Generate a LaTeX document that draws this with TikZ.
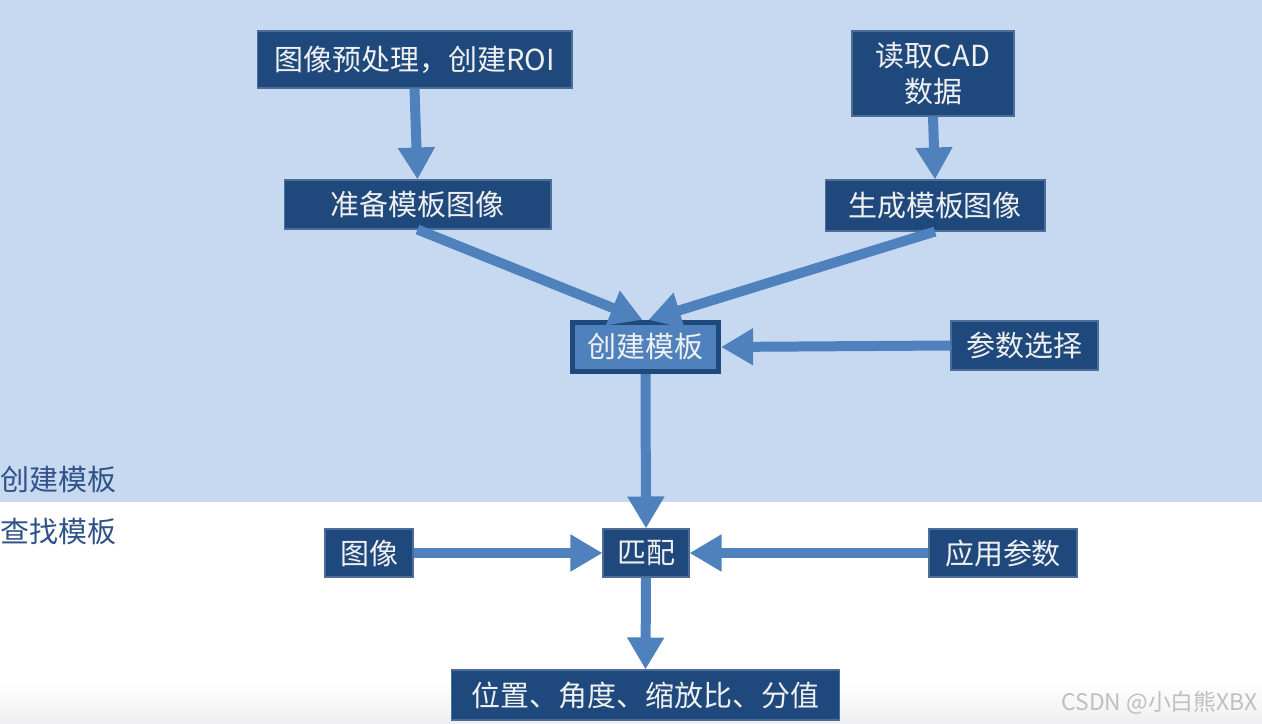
\documentclass[tikz,border=0pt]{standalone}
\usepackage{fontspec}
\usepackage{xcolor}
\usepackage{tikz}
\usetikzlibrary{arrows.meta,positioning}
\newfontfamily\cjk{Noto Sans CJK SC}
\definecolor{bgblue}{HTML}{C6D9F1}
\definecolor{boxnavy}{HTML}{1F497D}
\definecolor{flowblue}{HTML}{4F81BD}
\definecolor{stagetxt}{HTML}{2F5288}
\tikzset{
  stepbox/.style={draw=boxnavy!80!white,fill=boxnavy,line width=0.6pt,inner sep=0pt,
                  text=white!94!black,font=\cjk\fontsize{16.5}{21}\selectfont,align=center},
  keybox/.style={stepbox,fill=flowblue,draw=boxnavy,line width=3pt},
  stage/.style={anchor=west,inner sep=0pt,text=stagetxt,font=\cjk\fontsize{16.5}{19}\selectfont},
  flow/.style={-{Triangle[length=0.64cm,width=0.7cm]},flowblue,line width=0.2cm},
}

\begin{document}
\begin{tikzpicture}[x=0.02cm,y=-0.02cm]
        \useasboundingbox (0,0) rectangle (1262,724);
        \fill[bgblue] (0,0) rectangle (1262,502);
        \shade[top color=white,bottom color=blue!6!gray!12] (0,682) rectangle (1262,724);
        % stage labels
        \node[stage] (lcreate) at (0,480) {创建模板};
        \node[stage] (lfind)   at (0,532) {查找模板};
        % create template
        \node[stepbox,minimum width=6.3cm,minimum height=1.14cm]  (roi)    at (414.5,59.5) {图像预处理，创建ROI};
        \node[stepbox,minimum width=3.24cm,minimum height=1.7cm]  (cad)    at (933,73.5)   {读取CAD\\数据};
        \node[stepbox,minimum width=5.34cm,minimum height=0.98cm] (prep)   at (417.5,204.5) {准备模板图像};
        \node[stepbox,minimum width=4.4cm,minimum height=1.02cm]  (gen)    at (935,205.5)  {生成模板图像};
        \node[keybox,minimum width=2.92cm,minimum height=0.98cm]  (create) at (645.5,347)  {创建模板};
        \node[stepbox,minimum width=2.94cm,minimum height=0.98cm] (param)  at (1024.5,345.5) {参数选择};
        % find template
        \node[stepbox,minimum width=1.76cm,minimum height=0.96cm] (img)    at (369,553)    {图像};
        \node[stepbox,minimum width=1.72cm,minimum height=0.96cm] (match)  at (646,553)    {匹配};
        \node[stepbox,minimum width=2.96cm,minimum height=0.96cm] (apply)  at (1003,553)   {应用参数};
        \node[stepbox,minimum width=7.78cm,minimum height=1.0cm]  (result) at (645.5,695)  {位置、角度、缩放比、分值};
        % connectors
        \draw[flow] (roi.south)   -- (prep.north);
        \draw[flow] (cad.south)   -- (gen.north);
        \draw[flow] (prep.south)  -- ([xshift=-0.06cm]create.north);
        \draw[flow] (gen.south)   -- ([xshift=0.06cm]create.north);
        \draw[flow] (param.west)  -- (create.east);
        \draw[flow] (create.south) -- (match.north);
        \draw[flow] (img.east)    -- (match.west);
        \draw[flow] (apply.west)  -- (match.east);
        \draw[flow] (match.south) -- (result.north);
        % watermark
        \node[anchor=east,inner sep=0pt,text=black!25,font=\cjk\fontsize{13}{15}\selectfont] (mark) at (1258,703) {CSDN @小白熊XBX};
      \end{tikzpicture}
\end{document}
